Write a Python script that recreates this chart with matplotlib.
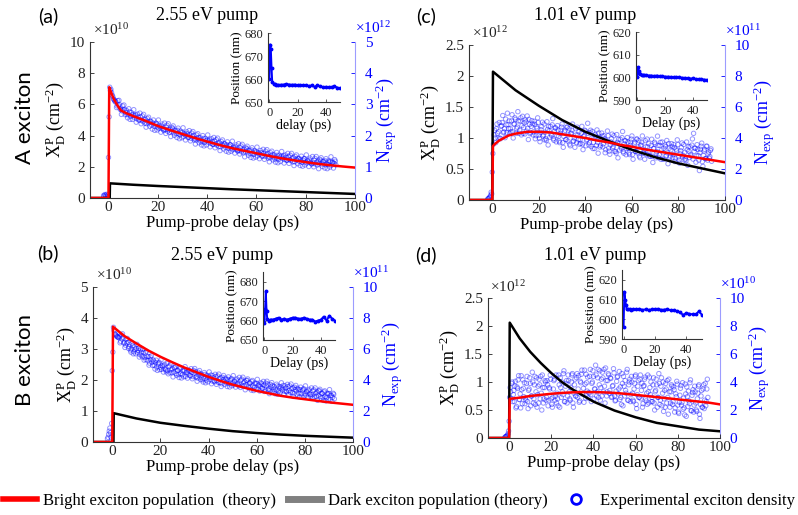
import numpy as np
import matplotlib
matplotlib.use('Agg')
import matplotlib.pyplot as plt
from matplotlib.lines import Line2D
from matplotlib.ticker import FuncFormatter

plt.rcParams['font.family'] = 'serif'
plt.rcParams['font.serif'] = ['Liberation Serif', 'DejaVu Serif']
plt.rcParams['mathtext.fontset'] = 'custom'
plt.rcParams['mathtext.rm'] = 'Liberation Serif'
plt.rcParams['mathtext.it'] = 'Liberation Serif:italic'
plt.rcParams['mathtext.bf'] = 'Liberation Serif:bold'
SERIF = 'Liberation Serif'

# ---------------- data ----------------
delay_ab = np.arange(-2.0, 92.5, 0.5)
delay_cd = np.arange(-2.0, 94.5, 0.5)
delay_ab2 = delay_ab + 0.25
delay_cd2 = delay_cd + 0.25

# theory curves (left axis, in units of the left multiplier)
t_red_a = [-7.5, 0, 0.3, 1, 2, 3, 4, 5, 7, 10, 15, 20, 25, 30, 35, 40, 45, 50, 55, 60, 65, 70, 75, 80, 85, 90, 95, 100]
bright_a = [0, 0, 7.1, 6.8, 6.4, 6.1, 5.85, 5.62, 5.45, 5.25, 4.95, 4.62, 4.35, 4.1, 3.85, 3.62, 3.4, 3.2, 3.03, 2.87, 2.7, 2.55, 2.42, 2.3, 2.19, 2.1, 2.02, 1.95]
t_blk_a = [-7.5, 0.5, 0.6, 10, 20, 30, 40, 50, 60, 70, 80, 90, 100]
dark_a = [0, 0, 0.94, 0.85, 0.77, 0.7, 0.63, 0.56, 0.5, 0.44, 0.38, 0.32, 0.26]

t_red_b = [-8, 0, 0.3, 5, 10, 15, 20, 25, 30, 35, 40, 45, 50, 55, 60, 65, 70, 75, 80, 85, 90, 95, 100]
bright_b = [0, 0, 3.72, 3.42, 3.18, 2.95, 2.75, 2.57, 2.4, 2.25, 2.1, 1.97, 1.85, 1.75, 1.65, 1.57, 1.49, 1.43, 1.38, 1.33, 1.28, 1.24, 1.2]
t_blk_b = [-8, 0.5, 0.6, 10, 20, 30, 40, 50, 60, 70, 80, 90, 100]
dark_b = [0, 0, 0.93, 0.76, 0.62, 0.52, 0.43, 0.35, 0.29, 0.24, 0.2, 0.17, 0.14]

t_red_c = [-10, 0, 0.3, 1, 2, 3, 5, 7, 10, 15, 20, 25, 30, 35, 40, 45, 50, 55, 60, 65, 70, 75, 80, 85, 90, 95, 100]
bright_c = [0, 0, 0.87, 0.9, 0.93, 0.96, 1.0, 1.04, 1.07, 1.1, 1.1, 1.09, 1.06, 1.03, 1.0, 0.96, 0.93, 0.89, 0.86, 0.82, 0.79, 0.76, 0.73, 0.7, 0.67, 0.64, 0.61]
t_blk_c = [-10, 0, 0.3, 10, 20, 30, 40, 50, 60, 70, 80, 90, 100]
dark_c = [0, 0, 2.07, 1.77, 1.52, 1.29, 1.1, 0.95, 0.81, 0.69, 0.59, 0.51, 0.43]

t_red_d = [-10, 0, 0.3, 5, 10, 15, 20, 25, 30, 35, 40, 45, 50, 55, 60, 65, 70, 75, 80, 85, 90, 95, 100]
bright_d = [0, 0, 0.7, 0.72, 0.75, 0.77, 0.79, 0.805, 0.815, 0.82, 0.82, 0.815, 0.805, 0.79, 0.77, 0.75, 0.73, 0.71, 0.69, 0.67, 0.65, 0.63, 0.6]
t_blk_d = [-10, 0, 0.3, 5, 10, 15, 20, 25, 30, 40, 50, 60, 70, 80, 90, 100]
dark_d = [0, 0, 2.06, 1.78, 1.54, 1.34, 1.16, 1.0, 0.87, 0.65, 0.49, 0.37, 0.27, 0.21, 0.15, 0.12]

# experimental exciton density (right axis, in units of the right multiplier), two scans
nexp_a = [0.08, 0.11, 0.06, 0.04, 1.3, 3.55, 3.48, 3.3, 3.18, 3.12,
          3.09, 2.95, 2.97, 2.99, 2.85, 2.79, 2.83, 2.84, 2.74, 2.67,
          2.69, 2.76, 2.61, 2.66, 2.67, 2.59, 2.67, 2.54, 2.59, 2.50,
          2.6, 2.49, 2.45, 2.51, 2.52, 2.38, 2.45, 2.41, 2.46, 2.34,
          2.4, 2.3, 2.35, 2.38, 2.27, 2.23, 2.28, 2.31, 2.23, 2.16,
          2.19, 2.27, 2.14, 2.19, 2.21, 2.14, 2.23, 2.09, 2.15, 2.06,
          2.17, 2.06, 2.02, 2.09, 2.1, 1.97, 2.04, 2.0, 2.06, 1.95,
          2.02, 1.91, 1.97, 2.01, 1.9, 1.86, 1.91, 1.94, 1.86, 1.8,
          1.83, 1.91, 1.78, 1.84, 1.86, 1.79, 1.88, 1.75, 1.81, 1.72,
          1.83, 1.73, 1.69, 1.76, 1.77, 1.64, 1.72, 1.68, 1.74, 1.63,
          1.7, 1.6, 1.66, 1.7, 1.59, 1.55, 1.61, 1.64, 1.56, 1.5,
          1.53, 1.61, 1.48, 1.54, 1.56, 1.49, 1.58, 1.45, 1.51, 1.42,
          1.54, 1.44, 1.4, 1.47, 1.48, 1.35, 1.44, 1.4, 1.46, 1.35,
          1.43, 1.33, 1.39, 1.43, 1.33, 1.29, 1.35, 1.39, 1.31, 1.25,
          1.29, 1.37, 1.24, 1.31, 1.33, 1.27, 1.36, 1.23, 1.3, 1.21,
          1.33, 1.23, 1.2, 1.27, 1.29, 1.16, 1.24, 1.21, 1.27, 1.17,
          1.24, 1.15, 1.21, 1.26, 1.15, 1.12, 1.18, 1.22, 1.14, 1.09,
          1.12, 1.21, 1.09, 1.15, 1.18, 1.12, 1.21, 1.09, 1.16, 1.08,
          1.19, 1.1, 1.07, 1.15, 1.17, 1.05, 1.14, 1.11, 1.18]
nexp_a2 = [0.06, 0.09, 0.12, 0.1, 2.6, 3.45, 3.38, 3.25, 3.15, 3.08,
           2.9, 3.12, 3.13, 2.84, 2.68, 2.95, 2.98, 2.67, 2.81, 2.57,
           2.86, 2.52, 2.74, 2.52, 2.83, 2.64, 2.43, 2.69, 2.5, 2.72,
           2.38, 2.63, 2.68, 2.4, 2.27, 2.55, 2.59, 2.3, 2.45, 2.21,
           2.5, 2.17, 2.4, 2.18, 2.5, 2.32, 2.11, 2.37, 2.19, 2.4,
           2.07, 2.33, 2.38, 2.1, 1.97, 2.26, 2.31, 2.01, 2.17, 1.94,
           2.24, 1.9, 2.14, 1.93, 2.25, 2.07, 1.86, 2.12, 1.94, 2.16,
           1.83, 2.08, 2.13, 1.86, 1.73, 2.02, 2.06, 1.77, 1.93, 1.7,
           2.0, 1.67, 1.91, 1.7, 2.02, 1.84, 1.64, 1.9, 1.72, 1.94,
           1.61, 1.87, 1.92, 1.65, 1.52, 1.81, 1.86, 1.57, 1.73, 1.5,
           1.8, 1.47, 1.71, 1.5, 1.82, 1.64, 1.44, 1.7, 1.52, 1.74,
           1.41, 1.67, 1.72, 1.45, 1.32, 1.61, 1.66, 1.37, 1.53, 1.3,
           1.61, 1.28, 1.52, 1.31, 1.63, 1.45, 1.26, 1.52, 1.34, 1.56,
           1.24, 1.5, 1.55, 1.28, 1.16, 1.45, 1.5, 1.22, 1.38, 1.15,
           1.46, 1.13, 1.37, 1.17, 1.49, 1.32, 1.12, 1.38, 1.21, 1.43,
           1.11, 1.37, 1.43, 1.16, 1.04, 1.33, 1.38, 1.1, 1.26, 1.04,
           1.34, 1.02, 1.26, 1.06, 1.38, 1.21, 1.01, 1.28, 1.1, 1.33,
           1.0, 1.27, 1.33, 1.06, 0.94, 1.24, 1.29, 1.01, 1.18, 0.96,
           1.26, 0.94, 1.19, 0.99, 1.32, 1.15, 0.96, 1.23, 1.06]

nexp_b = [0.2, 0.5, 0.9, 0.3, 4.6, 7.4, 7.0, 6.9, 6.8, 6.75,
          6.82, 6.5, 6.66, 6.76, 6.41, 6.25, 6.38, 6.43, 6.14, 5.94,
          6.01, 6.23, 5.82, 5.98, 6.02, 5.79, 6.04, 5.63, 5.79, 5.49,
          5.79, 5.46, 5.32, 5.5, 5.51, 5.09, 5.3, 5.15, 5.3, 4.94,
          5.12, 4.83, 5.01, 5.14, 4.81, 4.69, 4.86, 4.95, 4.7, 4.52,
          4.61, 4.85, 4.47, 4.66, 4.72, 4.52, 4.8, 4.42, 4.61, 4.36,
          4.71, 4.43, 4.33, 4.56, 4.61, 4.24, 4.5, 4.39, 4.58, 4.27,
          4.5, 4.22, 4.42, 4.55, 4.23, 4.12, 4.31, 4.41, 4.18, 4.01,
          4.11, 4.36, 3.98, 4.17, 4.24, 4.04, 4.32, 3.94, 4.14, 3.88,
          4.23, 3.95, 3.85, 4.08, 4.13, 3.76, 4.02, 3.92, 4.12, 3.81,
          4.04, 3.76, 3.96, 4.1, 3.79, 3.69, 3.89, 4.0, 3.78, 3.62,
          3.73, 3.99, 3.62, 3.82, 3.89, 3.7, 3.98, 3.61, 3.8, 3.55,
          3.9, 3.62, 3.51, 3.74, 3.79, 3.41, 3.67, 3.57, 3.76, 3.45,
          3.68, 3.4, 3.6, 3.74, 3.43, 3.33, 3.53, 3.64, 3.41, 3.25,
          3.36, 3.62, 3.26, 3.46, 3.54, 3.36, 3.65, 3.28, 3.48, 3.23,
          3.58, 3.31, 3.21, 3.44, 3.49, 3.12, 3.38, 3.28, 3.47, 3.15,
          3.38, 3.1, 3.3, 3.44, 3.13, 3.03, 3.23, 3.33, 3.11, 2.94,
          3.05, 3.3, 2.93, 3.13, 3.21, 3.02, 3.31, 2.94, 3.13, 2.88,
          3.23, 2.95, 2.85, 3.08, 3.13, 2.75, 3.0, 2.89, 3.08]
nexp_b2 = [0.3, 0.7, 0.6, 1.2, 5.8, 7.2, 6.95, 6.85, 6.78, 6.72,
           6.4, 6.9, 6.98, 6.39, 6.1, 6.63, 6.68, 6.04, 6.3, 5.8,
           6.38, 5.69, 6.14, 5.69, 6.3, 5.91, 5.48, 5.97, 5.58, 5.98,
           5.28, 5.77, 5.85, 5.25, 4.96, 5.5, 5.57, 4.94, 5.22, 4.71,
           5.28, 4.62, 5.09, 4.67, 5.3, 4.93, 4.51, 5.02, 4.64, 5.07,
           4.4, 4.92, 5.03, 4.47, 4.2, 4.78, 4.89, 4.3, 4.62, 4.16,
           4.78, 4.13, 4.62, 4.21, 4.86, 4.51, 4.12, 4.64, 4.28, 4.73,
           4.08, 4.62, 4.74, 4.18, 3.92, 4.5, 4.61, 4.02, 4.34, 3.87,
           4.48, 3.82, 4.3, 3.88, 4.52, 4.16, 3.76, 4.28, 3.93, 4.37,
           3.72, 4.26, 4.38, 3.83, 3.58, 4.17, 4.29, 3.71, 4.04, 3.58,
           4.2, 3.55, 4.04, 3.63, 4.28, 3.93, 3.54, 4.07, 3.72, 4.17,
           3.52, 4.06, 4.18, 3.63, 3.37, 3.96, 4.07, 3.49, 3.81, 3.35,
           3.97, 3.32, 3.8, 3.39, 4.04, 3.68, 3.29, 3.82, 3.46, 3.91,
           3.26, 3.8, 3.92, 3.37, 3.12, 3.71, 3.83, 3.25, 3.57, 3.11,
           3.73, 3.08, 3.58, 3.17, 3.82, 3.48, 3.09, 3.62, 3.27, 3.72,
           3.07, 3.62, 3.74, 3.19, 2.94, 3.53, 3.65, 3.07, 3.39, 2.92,
           3.54, 2.89, 3.38, 2.97, 3.62, 3.27, 2.88, 3.4, 3.05, 3.49,
           2.84, 3.37, 3.49, 2.94, 2.69, 3.28, 3.4, 2.82, 3.14, 2.68,
           3.3, 2.65, 3.14, 2.73, 3.38, 3.02, 2.62, 3.14, 2.78]

nexp_c = [0.05, 0.1, 0.2, 0.5, 1.8, 3.6, 4.5, 3.7, 4.9, 4.0,
          5.0, 3.95, 4.8, 5.45, 4.4, 4.02, 4.85, 5.6, 4.6, 4.3,
          4.4, 5.5, 4.0, 4.9, 5.2, 4.6, 5.7, 4.3, 5.1, 4.2,
          5.4, 4.68, 4.26, 5.04, 5.42, 3.9, 4.88, 4.35, 5.12, 4.2,
          5.08, 3.95, 4.72, 5.3, 4.18, 3.76, 4.54, 5.02, 4.2, 3.88,
          3.95, 5.05, 3.55, 4.45, 4.75, 4.15, 5.25, 3.85, 4.65, 3.75,
          4.8, 4.1, 3.7, 4.5, 4.9, 3.4, 4.4, 3.9, 4.7, 3.8,
          4.6, 3.5, 4.3, 4.9, 3.8, 3.4, 4.2, 4.7, 3.9, 3.6,
          3.65, 4.75, 3.25, 4.15, 4.45, 3.85, 4.95, 3.55, 4.35, 3.45,
          4.42, 3.72, 3.32, 4.12, 4.52, 3.02, 4.02, 3.52, 4.32, 3.42,
          4.15, 3.05, 3.85, 4.45, 3.35, 2.95, 3.75, 4.25, 3.45, 3.15,
          3.12, 4.22, 2.72, 3.62, 3.92, 3.32, 4.42, 3.02, 3.82, 2.92,
          4.03, 3.33, 2.93, 3.73, 4.13, 2.63, 3.63, 3.13, 3.93, 3.03,
          3.83, 2.73, 3.53, 4.13, 3.03, 2.63, 3.43, 3.93, 3.13, 2.83,
          2.82, 3.92, 2.42, 3.32, 3.62, 3.02, 4.12, 2.72, 3.52, 2.62,
          3.74, 3.04, 2.64, 3.44, 3.84, 2.34, 3.34, 2.84, 3.64, 2.74,
          3.58, 2.48, 3.28, 3.88, 2.78, 2.38, 3.18, 3.68, 2.88, 2.58,
          2.64, 3.74, 2.24, 3.14, 3.44, 2.84, 3.94, 4.3, 3.34, 2.44,
          3.57, 2.87, 1.9, 3.27, 3.67, 2.17, 3.17, 2.67, 3.47, 2.57,
          3.1, 2.8, 3.3]
nexp_c2 = [0.08, 0.15, 0.3, 0.4, 3.0, 4.2, 4.0, 4.6, 4.3, 4.4,
           4.0, 4.75, 5.0, 4.35, 4.6, 5.22, 4.35, 4.87, 5.1, 4.6,
           5.1, 4.4, 4.9, 5.3, 4.3, 4.7, 5.1, 4.5, 5.3, 4.8,
           4.3, 4.98, 5.16, 4.44, 4.62, 5.2, 4.28, 4.75, 4.92, 4.4,
           4.88, 4.15, 4.62, 5.0, 3.98, 4.36, 4.74, 4.12, 4.9, 4.38,
           3.85, 4.55, 4.75, 4.05, 4.25, 4.85, 3.95, 4.45, 4.65, 4.15,
           4.5, 3.8, 4.3, 4.7, 3.7, 4.1, 4.5, 3.9, 4.7, 4.2,
           3.6, 4.3, 4.5, 3.8, 4.0, 4.6, 3.7, 4.2, 4.4, 3.9,
           4.3, 3.6, 4.1, 4.5, 3.5, 3.9, 4.3, 3.7, 4.5, 4.0,
           3.32, 4.02, 4.22, 3.52, 3.72, 4.32, 3.42, 3.92, 4.12, 3.62,
           3.95, 3.25, 3.75, 4.15, 3.15, 3.55, 3.95, 3.35, 4.15, 3.65,
           3.02, 3.72, 3.92, 3.22, 3.42, 4.02, 3.12, 3.62, 3.82, 3.32,
           3.73, 3.03, 3.53, 3.93, 2.93, 3.33, 3.73, 3.13, 3.93, 3.43,
           2.83, 3.53, 3.73, 3.03, 3.23, 3.83, 2.93, 3.43, 3.63, 3.13,
           3.52, 2.82, 3.32, 3.72, 2.72, 3.12, 3.52, 2.92, 3.72, 3.22,
           2.64, 3.34, 3.54, 2.84, 3.04, 3.64, 2.74, 3.24, 3.44, 2.94,
           3.38, 2.68, 3.18, 3.58, 2.58, 2.98, 3.38, 2.78, 3.58, 3.08,
           2.54, 3.24, 3.44, 2.74, 2.94, 3.54, 2.64, 3.14, 3.34, 2.84,
           3.27, 2.57, 3.07, 3.47, 2.47, 2.87, 3.27, 2.67, 3.47, 2.97,
           2.7, 3.2, 2.5]

nexp_d = [0.05, 0.1, 0.15, 0.3, 1.2, 3.6, 2.8, 4.0, 3.1, 2.6,
          4.05, 2.25, 3.55, 4.45, 2.75, 2.15, 3.45, 4.15, 2.95, 2.45,
          2.7, 4.4, 2.1, 3.5, 3.9, 3.0, 4.7, 2.5, 3.8, 2.4,
          4.3, 3.1, 2.5, 3.8, 4.4, 2.0, 3.6, 2.8, 4.1, 2.7,
          4.1, 2.3, 3.6, 4.5, 2.8, 2.2, 3.5, 4.2, 3.0, 2.5,
          2.8, 4.5, 2.2, 3.6, 4.0, 3.1, 4.8, 2.6, 3.9, 2.5,
          4.5, 3.3, 2.7, 4.0, 4.6, 2.2, 3.8, 3.0, 4.3, 2.9,
          4.45, 2.65, 3.95, 4.85, 3.15, 2.55, 3.85, 4.55, 3.35, 2.85,
          3.2, 4.9, 2.6, 4.0, 4.4, 3.5, 5.2, 3.0, 4.3, 2.9,
          4.8, 3.6, 3.0, 4.3, 4.9, 2.5, 4.1, 3.3, 4.6, 3.2,
          4.3, 2.9, 3.7, 4.95, 3.0, 2.7, 4.05, 4.4, 3.5, 2.75,
          2.9, 4.6, 2.3, 3.7, 4.1, 3.2, 4.9, 2.7, 4.0, 2.6,
          4.4, 3.2, 2.6, 3.9, 4.5, 2.1, 3.7, 2.9, 4.2, 2.8,
          3.9, 2.45, 3.75, 4.35, 2.65, 2.4, 3.3, 4.35, 3.1, 2.6,
          2.6, 4.3, 2.0, 3.4, 3.8, 2.9, 4.6, 2.4, 3.7, 2.3,
          4.0, 2.8, 2.2, 3.5, 4.1, 1.7, 3.3, 2.5, 3.8, 2.4,
          3.65, 1.85, 3.15, 4.05, 2.35, 1.75, 3.05, 3.75, 2.55, 2.05,
          2.15, 3.85, 1.55, 2.95, 3.35, 2.45, 4.15, 1.95, 3.25, 1.85,
          3.7, 2.5, 1.9, 3.2, 3.8, 1.4, 3.0, 2.2, 3.5, 2.1,
          3.9, 2.6, 4.2]
nexp_d2 = [0.08, 0.12, 0.2, 0.5, 2.9, 3.3, 3.9, 2.6, 3.4, 3.7,
           2.15, 3.65, 4.15, 2.75, 3.15, 4.45, 2.45, 3.55, 3.95, 2.85,
           3.9, 2.6, 3.4, 4.3, 2.3, 3.0, 4.0, 2.8, 4.4, 3.3,
           2.2, 3.7, 4.2, 2.8, 3.2, 4.5, 2.5, 3.6, 4.0, 2.9,
           3.8, 2.7, 3.5, 4.2, 2.4, 2.9, 4.1, 2.7, 4.5, 3.2,
           2.3, 3.8, 4.3, 2.9, 3.3, 4.6, 2.6, 3.7, 4.1, 3.0,
           4.1, 2.8, 3.6, 4.5, 2.5, 3.2, 4.2, 3.0, 4.6, 3.5,
           2.55, 4.05, 4.55, 3.15, 3.55, 4.85, 2.85, 3.95, 4.35, 3.25,
           4.4, 3.1, 3.9, 4.8, 2.8, 3.5, 4.5, 3.3, 4.9, 3.8,
           2.7, 4.2, 4.7, 3.3, 3.7, 5.0, 3.0, 4.1, 4.5, 3.4,
           4.25, 2.95, 3.75, 4.65, 2.65, 3.35, 4.35, 3.15, 4.75, 3.65,
           2.4, 3.9, 4.4, 3.0, 3.4, 4.7, 2.7, 3.8, 4.2, 3.1,
           4.0, 2.7, 3.5, 4.4, 2.4, 3.1, 4.1, 2.9, 4.5, 3.4,
           2.2, 3.7, 4.2, 2.8, 3.2, 4.5, 2.5, 3.6, 4.0, 2.9,
           3.8, 2.5, 3.3, 4.2, 2.2, 2.9, 3.9, 2.7, 4.3, 3.2,
           1.9, 3.4, 3.9, 2.5, 2.9, 4.2, 2.2, 3.3, 3.7, 2.6,
           3.45, 2.15, 2.95, 3.85, 1.85, 2.55, 3.55, 2.35, 3.95, 2.85,
           1.65, 3.15, 3.65, 2.25, 2.65, 3.95, 1.95, 3.05, 3.45, 2.35,
           3.3, 2.0, 2.8, 3.7, 1.7, 2.4, 3.4, 2.2, 3.8, 2.7,
           2.3, 3.5, 2.9]

# insets: exciton peak position vs delay
inset_delay = [0, 0.5, 1, 1.5, 2, 3, 4, 5, 6, 8, 10, 12, 14, 16, 18, 20, 22, 24, 26, 28,
               30, 32, 34, 36, 38, 40, 42, 44, 46, 48, 50]
pos_a = [660, 675, 673, 665, 658.5, 658, 657.8, 657.6, 657.5, 657.5, 657.6, 657.8, 657.6, 657.5,
         657.6, 657.3, 657.4, 657.2, 657.3, 657.0, 657.2, 656.6, 657.2, 656.8, 656.5, 656.6,
         656.5, 656.6, 656.8, 656.3, 656.0]
pos_b = [658.5, 666, 675, 665, 661, 660, 660.3, 660.5, 660.5, 661, 661.5, 660.5, 661, 660.5,
         661, 661.5, 661.5, 661, 661, 661.5, 661, 660.5, 660.5, 659.5, 660, 660.5, 662, 660,
         662.5, 661, 660]
pos_c = [600, 604.5, 603, 602, 601.5, 601.2, 601, 601, 601, 600.8, 600.8, 600.6, 600.8, 600.5,
         600.5, 600.3, 600.3, 600.2, 600, 600, 600.2, 599.8, 599.8, 599.6, 599.4, 599.6, 599.3,
         599.2, 599.2, 599.0, 598.9]
pos_d = [596, 614, 610, 607, 605, 605, 605, 604.8, 605, 605, 605.3, 604.8, 605, 604.8, 605,
         605.2, 605.3, 604.8, 604.9, 605.2, 604.5, 604.6, 604.2, 603.5, 602.2, 603.2, 602.8,
         602.5, 602.5, 604, 602.3]

# ---------------- figure ----------------
W, H = 798, 515
fig = plt.figure(figsize=(W / 100, H / 100), dpi=100)


def rect(x0, y0, x1, y1):
    return [x0 / W, 1 - y1 / H, (x1 - x0) / W, (y1 - y0) / H]


gfmt = FuncFormatter(lambda v, p: f'{v:g}')
BLUE = '#0000ff'
LBLUE = '#9c9cff'
TXT = '#222222'


def style_ticklabels(a):
    for lab in a.get_xticklabels() + a.get_yticklabels():
        lab.set_fontfamily(SERIF)


def main_panel(r, xlim, yl, ytl, expl, yr, ytr, expr, tr, vr, tb, vb, scans):
    ax = fig.add_axes(r)
    ax2 = ax.twinx()
    ax.set_zorder(ax2.get_zorder() + 1)
    ax.patch.set_visible(False)
    for te, ve in scans:
        ax2.scatter(te, ve, s=10, facecolors='none', edgecolors=(0, 0, 1, 0.42), linewidths=0.7)
    ax.plot(tb, vb, color='black', lw=1.8)
    ax.plot(tr, vr, color='red', lw=1.8)
    ax.set_xlim(*xlim)
    ax.set_ylim(*yl)
    ax2.set_ylim(*yr)
    ax.set_xticks([0, 20, 40, 60, 80, 100])
    ax.set_yticks(ytl)
    ax2.set_yticks(ytr)
    for a in (ax, ax2):
        a.xaxis.set_major_formatter(gfmt)
        a.yaxis.set_major_formatter(gfmt)
    ax.tick_params(direction='in', length=3, width=0.6, labelsize=11, colors=TXT)
    ax.tick_params(axis='x', pad=2)
    ax2.tick_params(axis='y', direction='in', length=3, width=0.6, labelsize=11, colors=BLUE, pad=7)
    ax.spines['top'].set_visible(False)
    ax.spines['right'].set_visible(False)
    for s in ('top', 'left', 'bottom'):
        ax2.spines[s].set_visible(False)
    ax2.spines['right'].set_color(LBLUE)
    ax.spines['left'].set_color('#333333')
    ax.spines['bottom'].set_color('#333333')
    ax.set_xlabel('Pump-probe delay (ps)', fontsize=12, labelpad=1, family=SERIF)
    ax.set_ylabel(r'$\mathrm{X_D^P\ (cm^{-2})}$', fontsize=13, labelpad=2)
    ax2.set_ylabel(r'$\mathrm{N_{exp}\ (cm^{-2})}$', fontsize=13, color=BLUE, labelpad=1)
    ax.text(0.01, 1.025, r'$\times\mathrm{10}^{%d}$' % expl, transform=ax.transAxes,
            ha='left', va='bottom', fontsize=11, color=TXT)
    ax2.text(1.0, 1.04, r'$\times\mathrm{10}^{%d}$' % expr, transform=ax2.transAxes,
             ha='left', va='bottom', fontsize=11, color=BLUE)
    fig.canvas.draw()
    style_ticklabels(ax)
    style_ticklabels(ax2)
    return ax


def inset(r, pos, ylim, yticks, xlabel, ylabel):
    ai = fig.add_axes(r)
    ai.plot(inset_delay, pos, color=BLUE, lw=1.4, marker='o', ms=1.8)
    ai.set_xlim(-1, 50)
    ai.set_ylim(*ylim)
    ai.set_xticks([0, 20, 40])
    ai.set_yticks(yticks)
    ai.tick_params(direction='in', length=2, width=0.5, labelsize=9, colors=TXT)
    ai.spines['top'].set_visible(False)
    ai.spines['right'].set_visible(False)
    ai.spines['left'].set_color('#333333')
    ai.spines['bottom'].set_color('#333333')
    ai.set_xlabel(xlabel, fontsize=10, labelpad=0, family=SERIF)
    ai.set_ylabel(ylabel, fontsize=9.5, labelpad=1, family=SERIF)
    ai.patch.set_alpha(0)
    fig.canvas.draw()
    style_ticklabels(ai)
    return ai


main_panel(rect(90, 42, 355, 198), (-7.5, 100), (0, 10), [0, 2, 4, 6, 8, 10], 10,
           (0, 5), [0, 1, 2, 3, 4, 5], 12, t_red_a, bright_a, t_blk_a, dark_a,
           [(delay_ab, nexp_a), (delay_ab2, nexp_a2)])
main_panel(rect(469, 45, 725, 200), (-10, 100), (0, 2.5), [0, 0.5, 1, 1.5, 2, 2.5], 12,
           (0, 10), [0, 2, 4, 6, 8, 10], 11, t_red_c, bright_c, t_blk_c, dark_c,
           [(delay_cd, nexp_c), (delay_cd2, nexp_c2)])
main_panel(rect(93, 287, 353, 442), (-8, 100), (0, 5), [0, 1, 2, 3, 4, 5], 10,
           (0, 10), [0, 2, 4, 6, 8, 10], 11, t_red_b, bright_b, t_blk_b, dark_b,
           [(delay_ab, nexp_b), (delay_ab2, nexp_b2)])
main_panel(rect(488, 298, 720, 438), (-10, 100), (0, 2.5), [0, 0.5, 1, 1.5, 2, 2.5], 12,
           (0, 10), [0, 2, 4, 6, 8, 10], 10, t_red_d, bright_d, t_blk_d, dark_d,
           [(delay_cd, nexp_d), (delay_cd2, nexp_d2)])

inset(rect(268, 33, 340, 102), pos_a, (650, 680), [650, 660, 670, 680], 'delay (ps)', 'Position (nm)')
inset(rect(636, 32, 707, 100), pos_c, (590, 620), [590, 600, 610, 620], 'Delay (ps)', 'Position (nm)')
inset(rect(263, 272, 335, 340), pos_b, (650, 685), [650, 660, 670, 680], 'Delay (ps)', 'Position (nm)')
inset(rect(622, 270, 702, 339), pos_d, (590, 625), [590, 600, 610, 620], 'Delay (ps)', 'Posistion (nm)')

# panel letters, titles, row labels
for lab, x, y in [('(a)', 48, 16), ('(c)', 426, 16), ('(b)', 48, 253), ('(d)', 426, 255)]:
    fig.text(x / W, 1 - y / H, lab, fontsize=14, family='Lato', ha='center', va='center')
for tt, x, y in [('2.55 eV pump', 207, 16), ('1.01 eV pump', 585, 16),
                 ('2.55 eV pump', 222, 255), ('1.01 eV pump', 595, 255)]:
    fig.text(x / W, 1 - y / H, tt, fontsize=13, ha='center', va='center', family=SERIF)
fig.text(25 / W, 1 - 118 / H, 'A exciton', fontsize=16, family='Lato', rotation=90,
         ha='center', va='center')
fig.text(25 / W, 1 - 360 / H, 'B exciton', fontsize=16, family='Lato', rotation=90,
         ha='center', va='center')

handles = [Line2D([0], [0], color='red', lw=4),
           Line2D([0], [0], color='gray', lw=5),
           Line2D([0], [0], ls='none', marker='o', mfc='none', mec='blue', mew=2, ms=7)]
labels = ['Bright exciton population  (theory)', 'Dark exciton population (theory)',
          'Experimental exciton density']
fig.legend(handles, labels, loc='center', bbox_to_anchor=(0.5, 1 - 501 / H), ncol=3,
           frameon=False, prop={'family': SERIF, 'size': 12}, handlelength=2.0,
           columnspacing=0.7, handletextpad=0.4, borderaxespad=0, borderpad=0)

fig.savefig('out.png', dpi=100)
